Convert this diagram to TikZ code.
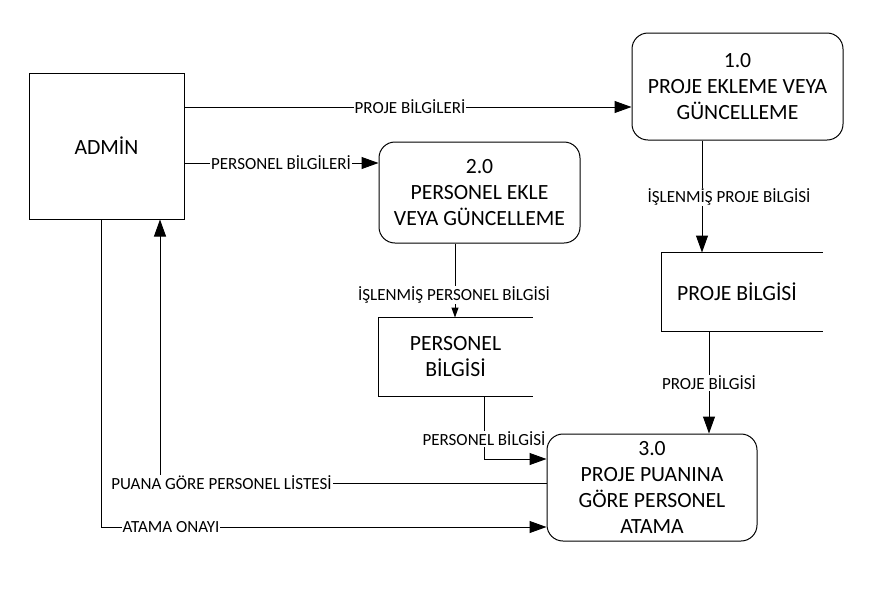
\documentclass[tikz,border=0pt]{standalone}
\usepackage{fontspec}
\setmainfont{Carlito}
\usetikzlibrary{arrows.meta}
\begin{document}
\begin{tikzpicture}[x=1pt,y=-1pt,line width=1pt,
  bigfont/.style={font=\fontsize{21.7}{26}\selectfont},
  lbl/.style={font=\fontsize{17}{18}\selectfont,fill=white,inner sep=1pt},
  procbox/.style={draw,rounded corners=16pt,align=center,bigfont,inner sep=0pt},
  storebox/.style={align=center,bigfont,inner sep=0pt},
  arr/.style={-{Triangle[length=17pt,width=12pt]}},
  arrs/.style={-{Triangle[length=10pt,width=7pt]}}]
\useasboundingbox (0,0) rectangle (871,603);
\node[draw,bigfont,minimum width=155pt,minimum height=146pt,inner sep=0pt] (admin) at (106.5,146) {ADMİN};
\node[procbox,minimum width=211pt,minimum height=107pt] (p1) at (737.5,86.5) {1.0\\PROJE EKLEME VEYA\\GÜNCELLEME};
\node[procbox,minimum width=201pt,minimum height=101pt] (p2) at (479.5,192.5) {2.0\\PERSONEL EKLE\\VEYA GÜNCELLEME};
\node[procbox,minimum width=210pt,minimum height=107pt] (p3) at (652,487.5) {3.0\\PROJE PUANINA\\GÖRE PERSONEL\\ATAMA};
\node[storebox,minimum width=160pt,minimum height=78pt] (s1) at (742,292) {};
\node[bigfont] (s1t) at (737,292) {PROJE BİLGİSİ};
\node[storebox,minimum width=153pt,minimum height=78pt] (s2) at (455.5,357) {PERSONEL\\BİLGİSİ};
\draw (s1.north east) -- (s1.north west) -- (s1.south west) -- (s1.south east);
\draw (s2.north east) -- (s2.north west) -- (s2.south west) -- (s2.south east);
% connectors
\draw[arr] (admin.east |- 0,107) -- (p1.west |- 0,107);
\draw[arr] (admin.east |- 0,163) -- (p2.west |- 0,163);
\draw[arr] (p1.south -| 702,0) -- (s1.north -| 702,0);
\draw[arrs] (p2.south -| 455,0) -- (s2.north -| 455,0);
\draw[arr] (s1.south -| 709,0) -- (p3.north -| 709,0);
\draw[arr] (s2.south -| 484,0) |- (p3.west |- 0,459);
\draw[arr] (p3.west |- 0,483) -| (admin.south -| 160,0);
\draw[arr] (admin.south -| 101,0) |- (p3.west |- 0,527);
% labels
\node[lbl] (l1) at (410,107) {PROJE BİLGİLERİ};
\node[lbl] (l2) at (281,163) {PERSONEL BİLGİLERİ};
\node[lbl] (l3) at (729,197) {İŞLENMİŞ PROJE BİLGİSİ};
\node[lbl] (l4) at (454,295) {İŞLENMİŞ PERSONEL BİLGİSİ};
\node[lbl] (l5) at (709,383) {PROJE BİLGİSİ};
\node[lbl] (l6) at (484,439) {PERSONEL BİLGİSİ};
\node[lbl] (l7) at (221.5,483) {PUANA GÖRE PERSONEL LİSTESİ};
\node[lbl] (l8) at (171,527) {ATAMA ONAYI};
\end{tikzpicture}
\end{document}
